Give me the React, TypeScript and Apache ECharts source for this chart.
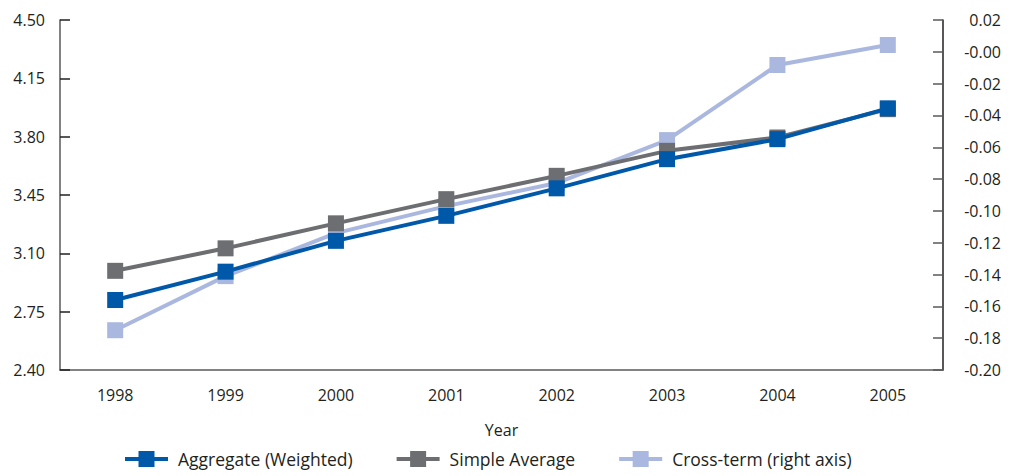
import React, { useEffect, useRef } from "react";
import * as echarts from "echarts";

const years = ["1998", "1999", "2000", "2001", "2002", "2003", "2004", "2005"];
const aggregateWeighted = [2.82, 2.99, 3.175, 3.325, 3.49, 3.665, 3.785, 3.97];
const simpleAverage = [2.995, 3.13, 3.28, 3.425, 3.565, 3.715, 3.795, 3.965];
const crossTerm = [-0.175, -0.141, -0.114, -0.097, -0.0825, -0.0555, -0.0083, 0.0043];

const FONT = "'Open Sans', 'Liberation Sans', sans-serif";
const TEXT = "#231f20";
const BLUE = "#0058a9";
const GRAY = "#6d6e71";
const LIGHT = "#aab8df";

export default function App() {
  const ref = useRef<HTMLDivElement>(null);
  useEffect(() => {
    if (!ref.current) return;
    const chart = echarts.init(ref.current, undefined, { renderer: "svg" });
    const lineSeries = (name: string, data: number[], color: string, yAxisIndex: number, z: number) => ({
      name,
      type: "line",
      data,
      yAxisIndex,
      z,
      symbol: "rect",
      symbolSize: 16,
      showSymbol: true,
      lineStyle: { color, width: 4 },
      itemStyle: { color, borderWidth: 0 },
      emphasis: { disabled: true },
    });
    chart.setOption({
      animation: false,
      textStyle: { fontFamily: FONT },
      grid: { left: 60, right: 68, top: 20, bottom: 106, containLabel: false },
      legend: {
        top: 450,
        left: 123,
        padding: 0,
        itemWidth: 43,
        itemHeight: 20,
        itemGap: 42,
        lineStyle: { width: 4 },
        textStyle: { fontFamily: FONT, fontSize: 17.5, color: TEXT, padding: [0, 0, 0, 5] },
        data: ["Aggregate (Weighted)", "Simple Average", "Cross-term (right axis)"],
      },
      xAxis: {
        type: "category",
        data: years,
        boundaryGap: true,
        name: "Year",
        nameLocation: "middle",
        nameGap: 52,
        nameTextStyle: { fontFamily: FONT, fontSize: 16, color: TEXT },
        axisLine: { onZero: false, lineStyle: { color: "#58595b", width: 1.5 } },
        axisTick: { inside: true, length: 8, lineStyle: { color: "#231f20", width: 1.5 } },
        axisLabel: { fontFamily: FONT, fontSize: 16, color: TEXT, margin: 17 },
        splitLine: { show: false },
      },
      yAxis: [
        {
          type: "value",
          position: "left",
          min: 2.4,
          max: 4.5,
          interval: 0.35,
          axisLine: { show: true, onZero: false, lineStyle: { color: "#58595b", width: 1.5 } },
          axisTick: { show: true, inside: true, length: 10, lineStyle: { color: "#231f20", width: 1.5 } },
          axisLabel: {
            fontFamily: FONT,
            fontSize: 16,
            color: TEXT,
            margin: 15,
            formatter: (v: number) => v.toFixed(2),
          },
          splitLine: { show: false },
        },
        {
          type: "value",
          position: "right",
          min: -0.2,
          max: 0.02,
          interval: 0.02,
          axisLine: { show: true, onZero: false, lineStyle: { color: "#231f20", width: 1.5 } },
          axisTick: { show: true, inside: true, length: 10, lineStyle: { color: "#58595b", width: 1.5 } },
          axisLabel: {
            fontFamily: FONT,
            fontSize: 16,
            color: TEXT,
            margin: 58,
            align: "right",
            formatter: (v: number) => (Math.abs(v) < 1e-9 ? "-0.00" : v.toFixed(2)),
          },
          splitLine: { show: false },
        },
      ],
      series: [
        lineSeries("Simple Average", simpleAverage, GRAY, 0, 2),
        lineSeries("Aggregate (Weighted)", aggregateWeighted, BLUE, 0, 3),
        lineSeries("Cross-term (right axis)", crossTerm, LIGHT, 1, 1),
      ],
    });
    return () => chart.dispose();
  }, []);
  return <div ref={ref} style={{ width: 1011, height: 476, position: "absolute", left: 0, top: 0 }} />;
}
